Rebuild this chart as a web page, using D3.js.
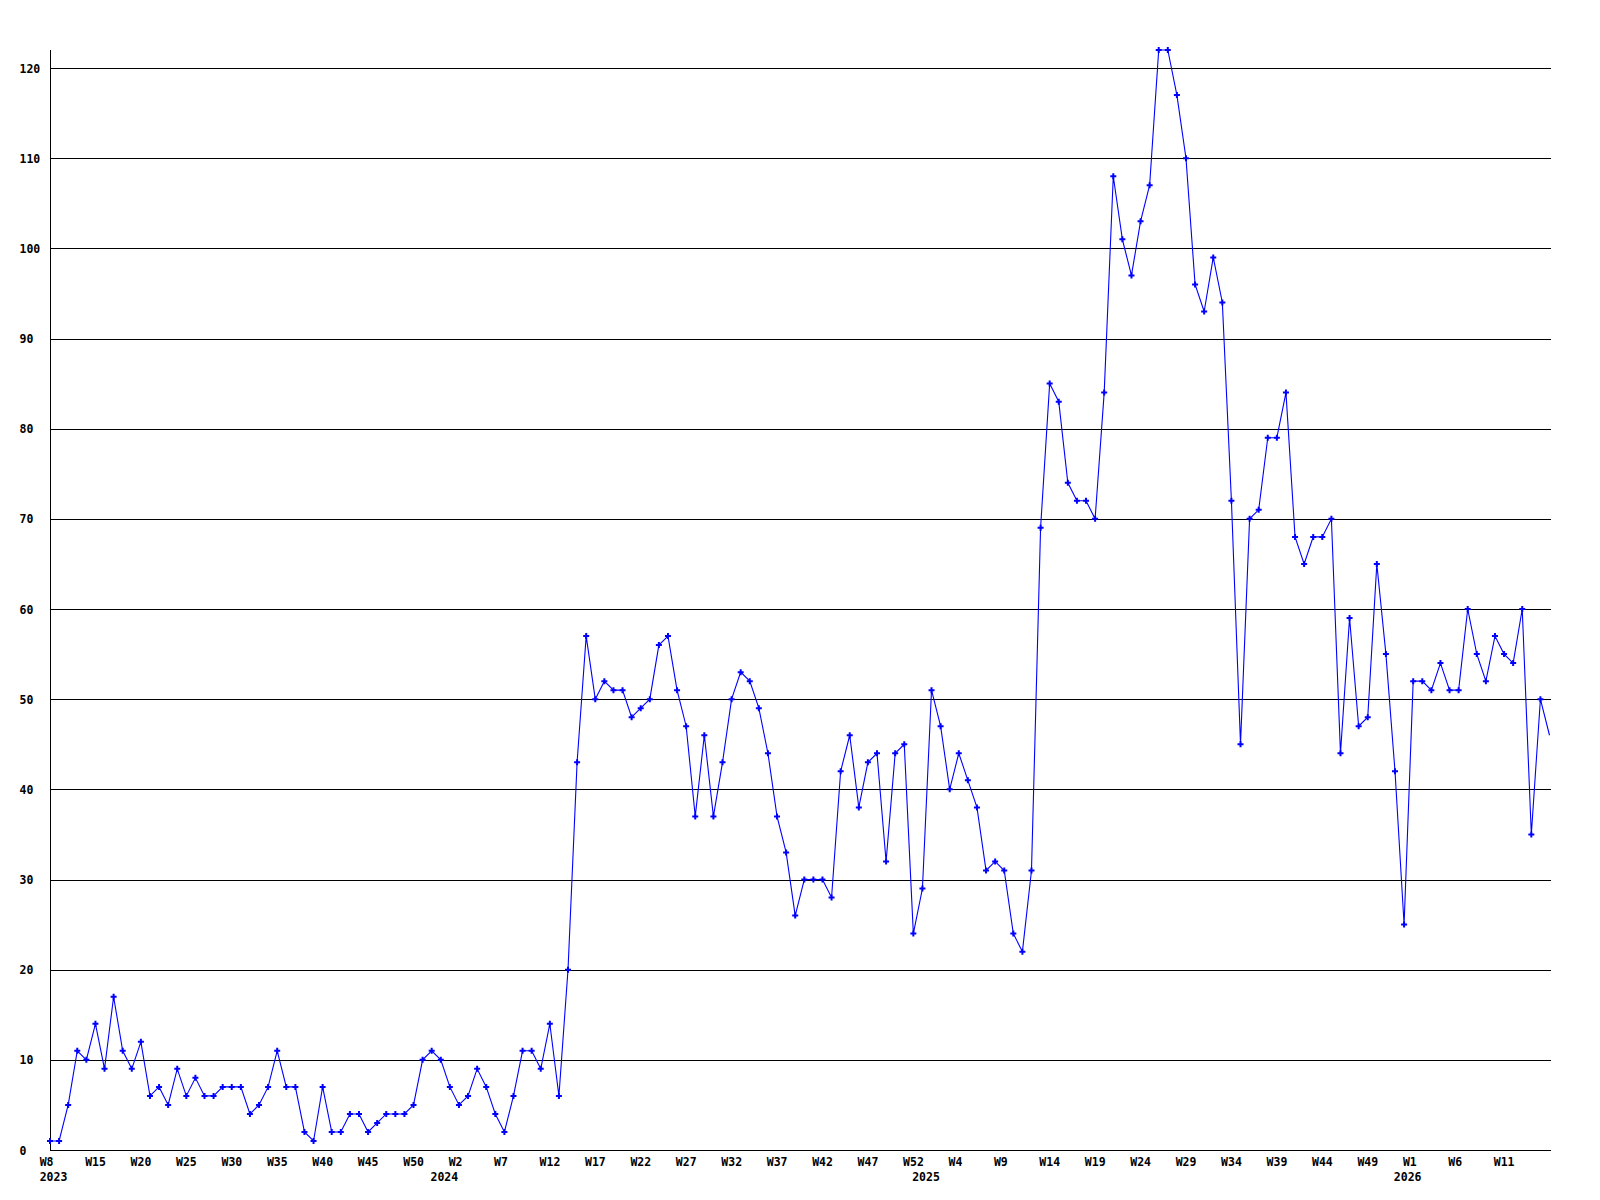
<!DOCTYPE html>
<html>
  <head>
    <title>Weekly count</title>
    <meta charset="utf-8">
    <script src="https://cdn.jsdelivr.net/npm/d3@7"></script>
    <style>
      body {margin:0; background:#fff;}
      text {font-family:"DejaVu Sans Mono", monospace; font-weight:bold; font-size:11.5px; fill:#000;}
    </style>
  </head>
  <body>
   <script>
      // one value per week, 2023 W8 onwards
      var values = [
        1, 1, 5, 11, 10, 14, 9, 17, 11, 9, 12, 6, 7, 5, 9, 6, 8, 6, 6, 7,
        7, 7, 4, 5, 7, 11, 7, 7, 2, 1, 7, 2, 2, 4, 4, 2, 3, 4, 4, 4,
        5, 10, 11, 10, 7, 5, 6, 9, 7, 4, 2, 6, 11, 11, 9, 14, 6, 20, 43, 57,
        50, 52, 51, 51, 48, 49, 50, 56, 57, 51, 47, 37, 46, 37, 43, 50, 53, 52, 49, 44,
        37, 33, 26, 30, 30, 30, 28, 42, 46, 38, 43, 44, 32, 44, 45, 24, 29, 51, 47, 40,
        44, 41, 38, 31, 32, 31, 24, 22, 31, 69, 85, 83, 74, 72, 72, 70, 84, 108, 101, 97,
        103, 107, 122, 122, 117, 110, 96, 93, 99, 94, 72, 45, 70, 71, 79, 79, 84, 68, 65, 68,
        68, 70, 44, 59, 47, 48, 65, 55, 42, 25, 52, 52, 51, 54, 51, 51, 60, 55, 52, 57,
        55, 54, 60, 35, 50, 46
      ];

      // week labels, one every 5 points
      var weekLabels = ["W8", "W15", "W20", "W25", "W30", "W35", "W40", "W45", "W50",
        "W2", "W7", "W12", "W17", "W22", "W27", "W32", "W37", "W42", "W47", "W52",
        "W4", "W9", "W14", "W19", "W24", "W29", "W34", "W39", "W44", "W49",
        "W1", "W6", "W11"];
      var weekStep = 5;

      // first point of each year
      var years = ["2023", "2024", "2025", "2026"];
      var yearStart = [0, 43, 96, 149];

      var yTicks = d3.range(0, 121, 10);

      var width = 1600;
      var height = 1200;
      // plot box (don't call it "top", that's window.top)
      var plotL = 50, plotR = 1551, plotT = 50, plotB = 1150;

      var svg = d3.select("body")
          .append("svg")
          .attr("width", width)
          .attr("height", height);

      var x = d3.scaleLinear()
          .domain([0, values.length - 1])
          .range([plotL, 1549.5]);

      var y = d3.scaleLinear()
          .domain([0, 122])
          .range([plotB, plotT]);

      // horizontal grid
      svg.selectAll("line.grid")
          .data(yTicks.slice(1))
          .enter()
          .append("line")
          .attr("class", "grid")
          .attr("x1", plotL)
          .attr("x2", plotR)
          .attr("y1", function(d) { return Math.round(y(d)) + 0.5; })
          .attr("y2", function(d) { return Math.round(y(d)) + 0.5; })
          .attr("stroke", "#000")
          .attr("shape-rendering", "crispEdges");

      // axes
      svg.append("line")
          .attr("x1", plotL + 0.5).attr("x2", plotL + 0.5)
          .attr("y1", plotT).attr("y2", plotB + 0.5)
          .attr("stroke", "#000")
          .attr("shape-rendering", "crispEdges");
      svg.append("line")
          .attr("x1", plotL).attr("x2", plotR)
          .attr("y1", plotB + 0.5).attr("y2", plotB + 0.5)
          .attr("stroke", "#000")
          .attr("shape-rendering", "crispEdges");

      // y labels, left aligned like the original
      svg.selectAll("text.ylab")
          .data(yTicks)
          .enter()
          .append("text")
          .attr("class", "ylab")
          .attr("x", 19.5)
          .attr("y", function(d) { return y(d) + 4.5; })
          .text(function(d) { return d; });

      // week labels
      svg.selectAll("text.week")
          .data(weekLabels)
          .enter()
          .append("text")
          .attr("class", "week")
          .attr("x", function(d, i) { return x(i * weekStep) - 10.3; })
          .attr("y", 1166.3)
          .text(function(d) { return d; });

      svg.selectAll("text.year")
          .data(years)
          .enter()
          .append("text")
          .attr("class", "year")
          .attr("x", function(d, i) { return x(yearStart[i]) - 10.3; })
          .attr("y", 1181.3)
          .text(function(d) { return d; });

      // the series
      var line = d3.line()
          .x(function(d, i) { return x(i); })
          .y(function(d) { return y(d); });

      svg.append("path")
          .datum(values)
          .attr("d", line)
          .attr("fill", "none")
          .attr("stroke", "#0000ff")
          .attr("stroke-width", 1.1);

      // markers (the last, unfinished week has none)
      var marker = d3.symbol().type(d3.symbolCross).size(20);
      svg.selectAll("path.pt")
          .data(values.slice(0, -1))
          .enter()
          .append("path")
          .attr("class", "pt")
          .attr("d", marker)
          .attr("transform", function(d, i) { return "translate(" + x(i) + "," + y(d) + ")"; })
          .attr("fill", "#0000ff");
   </script>
  </body>
</html>
